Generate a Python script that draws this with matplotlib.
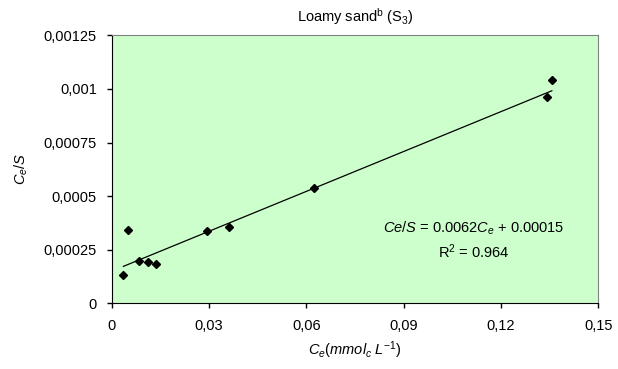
import matplotlib
matplotlib.use("Agg")
import matplotlib.pyplot as plt
from matplotlib.ticker import FuncFormatter

plt.rcParams['font.family'] = ['Liberation Sans', 'DejaVu Sans']
plt.rcParams['mathtext.fontset'] = 'custom'
plt.rcParams['mathtext.rm'] = 'Liberation Sans'
plt.rcParams['mathtext.it'] = 'Liberation Sans:italic'
plt.rcParams['mathtext.bf'] = 'Liberation Sans:bold'

# measured points, Ce (mmol_c/L) vs Ce/S
ce = [0.0036, 0.0050, 0.0085, 0.0111, 0.0137, 0.0295, 0.0361, 0.0625, 0.1341, 0.1357]
ce_s = [0.000132, 0.000343, 0.000199, 0.000194, 0.000185, 0.000337, 0.000356,
        0.000536, 0.000962, 0.001042]

# linear fit shown on the chart
slope = 0.0062
intercept = 0.00015

xticks = [0, 0.03, 0.06, 0.09, 0.12, 0.15]
yticks = [0, 0.00025, 0.0005, 0.00075, 0.001, 0.00125]

fig = plt.figure(figsize=(6.18, 3.69), dpi=100)
ax = fig.add_axes([0.1807, 0.178, 0.7873, 0.7263])
ax.set_facecolor('#CCFFCC')

x_line = [min(ce), max(ce)]
y_line = [slope * v + intercept for v in x_line]
ax.plot(x_line, y_line, color='black', lw=0.9)
ax.plot(ce, ce_s, linestyle='none', marker='D', markersize=4, color='black')

ax.set_xlim(0, 0.15)
ax.set_ylim(0, 0.00125)
ax.set_xticks(xticks)
ax.set_yticks(yticks)

def comma(v, pos):
    if v == 0:
        return '0'
    s = ('%.5f' % v).rstrip('0').rstrip('.')
    return s.replace('.', ',')

ax.xaxis.set_major_formatter(FuncFormatter(comma))
ax.yaxis.set_major_formatter(FuncFormatter(comma))
ax.tick_params(direction='out', length=3.6, width=1, labelsize=10.5, colors='black')
ax.tick_params(axis='y', pad=7)
ax.tick_params(axis='x', pad=8)

for side in ['top', 'right']:
    ax.spines[side].set_color('#808080')
for side in ['left', 'bottom']:
    ax.spines[side].set_color('black')

ax.set_title('Loamy sand$^{\\mathrm{b}}$ (S$_{3}$)', fontsize=10.5, pad=10)
ax.set_xlabel('$C_{e}(mmol_{c}\\ L^{-1})$', fontsize=10.5, labelpad=4)
ax.set_ylabel('$C_{e}/S$', fontsize=10.5, labelpad=10)

ax.text(0.1115, 0.000351, '$Ce/S$ = 0.0062$C_{e}$ + 0.00015', fontsize=10.5,
        ha='center', va='center')
ax.text(0.1115, 0.000239, 'R$^{2}$ = 0.964', fontsize=10.5, ha='center', va='center')

fig.savefig('out.png', dpi=100)
